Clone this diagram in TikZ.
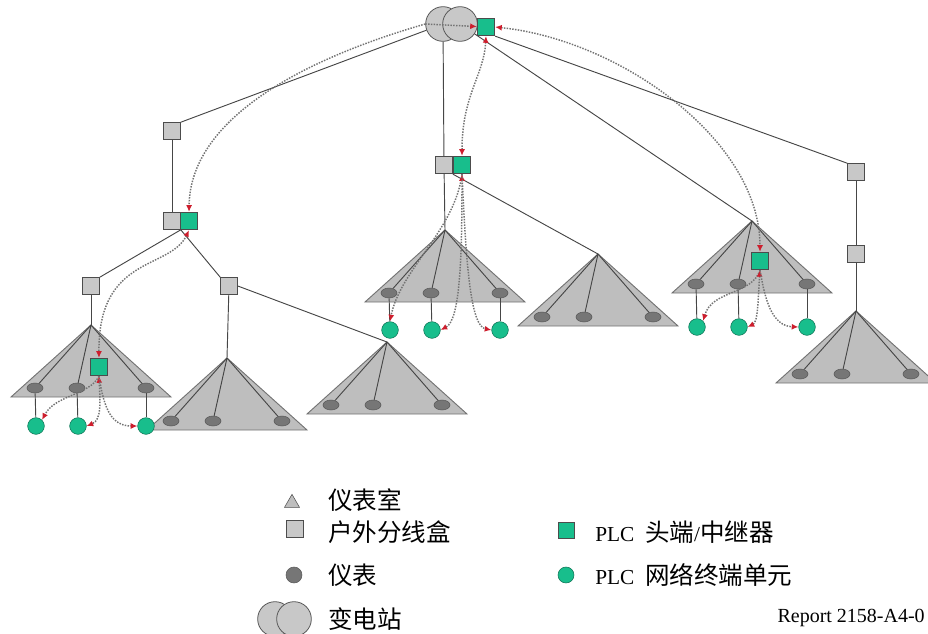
\documentclass[tikz,border=0pt]{standalone}
\usepackage{fontspec}
\setmainfont{Liberation Serif}
\newfontfamily\cjk{Noto Sans CJK SC}[Scale=1.15]
\usepackage{xcolor}
\usetikzlibrary{arrows.meta,calc,shapes.geometric}
\definecolor{wiregray}{RGB}{70,70,70}
\definecolor{boxgray}{RGB}{200,200,200}
\definecolor{roomgray}{RGB}{190,190,190}
\definecolor{metergray}{RGB}{118,118,118}
\definecolor{plcgreen}{RGB}{24,190,140}
\definecolor{linkgray}{RGB}{115,115,115}
\definecolor{signalred}{RGB}{205,30,45}

\tikzset{
  rtip/.tip={Latex[length=5pt,width=4.5pt,color=signalred]},
  wire/.style={draw=wiregray, line width=0.7pt},
  room/.style={fill=roomgray, draw=gray!90!black, line width=0.7pt},
  jbox/.style={rectangle, draw=gray!60!black, fill=boxgray, line width=0.7pt, minimum size=12.5pt, inner sep=0pt},
  plc/.style={rectangle, draw=black!70, fill=plcgreen, line width=0.7pt, minimum size=13pt, inner sep=0pt},
  meter/.style={ellipse, draw=black!65, fill=metergray, minimum width=12pt, minimum height=7.5pt, inner sep=0pt},
  ntu/.style={circle, draw=plcgreen!60!black, fill=plcgreen, minimum size=12.5pt, inner sep=0pt},
  subst/.style={circle, draw=gray!70!black, fill=boxgray, minimum size=26pt, inner sep=0pt, line width=0.6pt},
  link/.style={draw=linkgray, densely dotted, line width=1.1pt},
  lgtext/.style={anchor=west, inner sep=0pt, font=\fontsize{16}{16}\selectfont}
}

\begin{document}
\begin{tikzpicture}[x=0.75pt, y=-0.75pt]
    \useasboundingbox (0,0) rectangle (928,633);

    % Meter rooms: apex, three meters with spokes
    \foreach \room/\x/\y in {a/91/325, b/227/358, c/387/342, d/445/230, e/598/254, f/752/221, g/856/311} {
      \coordinate (\room) at (\x,\y);
      \draw[room] (\room) -- ++(-80,72) -- ++(160,0) -- cycle;
      \foreach \k/\dx in {1/-56, 2/-14, 3/55} {
        \node[meter] (\room\k) at ([shift={(\dx,63)}]\room) {};
        \draw[wire] (\room) -- (\room\k);
      }
    }

    % Network terminal units below the PLC rooms
    \foreach \room/\dy in {a/101, d/100, f/106} {
      \foreach \k/\dx in {1/-55, 2/-13, 3/55} {
        \node[ntu] (\room n\k) at ([shift={(\dx,\dy)}]\room) {};
        \draw[wire] (\room\k) -- (\room n\k);
      }
    }
    \node[plc] (aplc) at ([shift={(8,42)}]a) {};
    \node[plc] (fplc) at ([shift={(8,40)}]f) {};

    % Substation, head end and junction boxes
    \node[subst] (sA) at (443,24) {};
    \node[subst] (sB) at (460,24) {};
    \node[plc] (hd) at (486,27) {};
    \node[jbox] (lbox) at (172,131) {};
    \node[jbox] (lbox2) at (172,221) {};
    \node[plc] (lplc) at (189,221) {};
    \node[jbox] (lbA) at (91,286) {};
    \node[jbox] (lbB) at (229,286) {};
    \node[jbox] (mbox) at (444,165) {};
    \node[plc] (mplc) at (462,165) {};
    \node[jbox] (rbA) at (856,172) {};
    \node[jbox] (rbB) at (856,254) {};

    % Power lines
    \draw[wire] (sA) -- (lbox.north east);
    \draw[wire] (lbox) -- (lbox2);
    \draw[wire] (lbox2.south east) -- (lbA.north east);
    \draw[wire] (lbox2.south east) -- (lbB.north west);
    \draw[wire] (lbA) -- (a);
    \draw[wire] (lbB) -- (b);
    \draw[wire] (lbB.east) -- (c);
    \draw[wire] (sA) -- (mbox);
    \draw[wire] (mbox) -- (d);
    \draw[wire] (mplc.south west) -- (e);
    \draw[wire] (sB) -- (f);
    \draw[wire] (hd.south east) -- (rbA.north west);
    \draw[wire] (rbA) -- (rbB);
    \draw[wire] (rbB) -- (g);

    % PLC signal paths
    \draw[link, -rtip] (sA.west) -- (hd);
    \draw[link, rtip-rtip] (hd.south) .. controls (484,75) and (462,95) .. (mplc.north);
    \draw[link, -rtip] (sA.west) .. controls (300,60) and (190,120) .. (lplc.north);
    \draw[link, rtip-rtip] (hd.east) .. controls (620,40) and (760,140) .. (fplc.north);
    \draw[link, rtip-rtip] (lplc.south) .. controls (170,270) and (98,255) .. (aplc.north);
    \draw[link, -rtip] (aplc.south) .. controls (90,395) and (55,395) .. (an1.north east);
    \draw[link, rtip-rtip] (aplc.south) .. controls (100,400) and (102,420) .. (an2.east);
    \draw[link, -rtip] (aplc.south) .. controls (104,410) and (112,426) .. (an3.west);
    \draw[link, -rtip] (mplc.south) .. controls (455,230) and (400,270) .. (dn1.north);
    \draw[link, rtip-rtip] (mplc.south) .. controls (462,260) and (460,320) .. (dn2.east);
    \draw[link, -rtip] (mplc.south) .. controls (466,260) and (470,326) .. (dn3.west);
    \draw[link, -rtip] (fplc.south) .. controls (752,295) and (712,290) .. (fn1.north east);
    \draw[link, rtip-rtip] (fplc.south) .. controls (758,300) and (758,322) .. (fn2.east);
    \draw[link, -rtip] (fplc.south) .. controls (765,300) and (772,326) .. (fn3.west);

    % Legend
    \node[regular polygon, regular polygon sides=3, fill=roomgray, draw=gray!60!black, minimum size=13pt, inner sep=0pt] (kroom) at (292,503) {};
    \node[jbox] (kbox) at (295,529) {};
    \node[circle, draw=black!65, fill=metergray, minimum size=12pt, inner sep=0pt] (kmeter) at (294,575) {};
    \node[subst] (ksA) at (275,619) {};
    \node[subst] (ksB) at (294,619) {};
    \node[plc, minimum size=12pt] (kplc) at (566,530) {};
    \node[ntu, minimum size=12pt] (kntu) at (566,575) {};
    \node[lgtext] (troom) at (328,500) {\cjk 仪表室};
    \node[lgtext] (tbox) at (328,532) {\cjk 户外分线盒};
    \node[lgtext] (tmeter) at (328,575) {\cjk 仪表};
    \node[lgtext] (tsub) at (328,619) {\cjk 变电站};
    \node[lgtext] (tplc) at (595,532) {PLC\hspace{0.5em}{\cjk 头端}/{\cjk 中继器}};
    \node[lgtext] (tntu) at (595,575) {PLC\hspace{0.5em}{\cjk 网络终端单元}};
    \node[lgtext, anchor=east, font=\fontsize{15}{15}\selectfont] (tref) at (925,618) {Report 2158-A4-0};
\end{tikzpicture}
\end{document}
